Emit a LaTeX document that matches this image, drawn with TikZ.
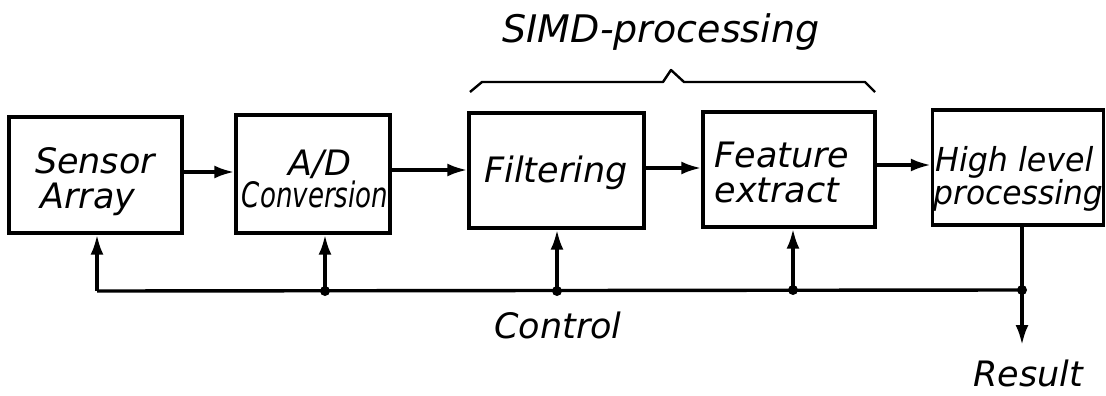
\documentclass[tikz,border=0pt]{standalone}
\usepackage{fontspec}
\setmainfont{DejaVu Sans}
\usetikzlibrary{arrows.meta}
\begin{document}
\begin{tikzpicture}[x=1pt,y=-1pt,
  >={Latex[length=20pt,width=13pt]},
  blk/.style={draw, line width=3.4pt, inner sep=0pt},
  lbl/.style={font=\fontsize{35}{38}\selectfont\itshape, inner sep=0pt, anchor=base},
  conn/.style={line width=3.4pt, ->},
  wire/.style={line width=3.4pt},
  brace/.style={line width=2.4pt, line join=round},
  jdot/.style={circle, fill, inner sep=0pt, minimum size=10pt}]
\useasboundingbox (0,0) rectangle (1106,396);
% blocks
\node[blk, minimum width=173pt, minimum height=116pt] (sa) at (95.5,175) {};
\node[blk, minimum width=154pt, minimum height=118pt] (ad) at (313,174) {};
\node[blk, minimum width=175pt, minimum height=115pt] (fi) at (556.5,170.5) {};
\node[blk, minimum width=172pt, minimum height=115pt] (fe) at (789,169.5) {};
\node[blk, minimum width=171pt, minimum height=115pt] (hl) at (1018,167.5) {};
% labels
\node[lbl] (sa1) at (95,173) {Sensor};
\node[lbl] (sa2) at (88,208) {Array};
\node[lbl] (ad1) at (320,175) {A/D};
\node[lbl] (ad2) at (315,207) {\scalebox{0.745}[1]{Conversion}};
\node[lbl] (fi1) at (556,182) {Filtering};
\node[lbl] (fe1) at (782,167) {Feature};
\node[lbl] (fe2) at (777,202) {extract};
\node[lbl, anchor=base west, font=\fontsize{33}{36}\selectfont\itshape] (hl1) at (935,171) {\scalebox{0.96}[1]{High level}};
\node[lbl, anchor=base west, font=\fontsize{33}{36}\selectfont\itshape] (hl2) at (933,204) {\scalebox{0.95}[1]{processing}};
\node[lbl, font=\fontsize{38}{40}\selectfont\itshape] (simd) at (661,43) {SIMD-processing};
\node[lbl] (ctl) at (558,338) {Control};
\node[lbl] (res) at (1028,386) {Result};
% forward arrows
\draw[conn] (sa.east |- 0,172) -- (ad.west |- 0,172);
\draw[conn] (ad.east |- 0,170) -- (fi.west |- 0,170);
\draw[conn] (fi.east |- 0,168) -- (fe.west |- 0,168);
\draw[conn] (fe.east |- 0,165) -- (hl.west |- 0,165);
% control bus
\coordinate (cl) at (97,291);
\coordinate (cr) at (1022,290);
\coordinate (j1) at (325,291);
\coordinate (j2) at (557,291);
\coordinate (j3) at (793,290);
\coordinate (rend) at (1022,345);
\draw[wire] (cl) -- (cr);
\draw[conn] (cl) -- (cl |- sa.south);
\draw[conn] (j1) -- (j1 |- ad.south);
\draw[conn] (j2) -- (j2 |- fi.south);
\draw[conn] (j3) -- (j3 |- fe.south);
\draw[conn] (cr |- hl.south) -- (rend);
\node[jdot] at (j1) {};
\node[jdot] at (j2) {};
\node[jdot] at (j3) {};
\node[jdot] at (cr) {};
% brace
\coordinate (b0) at (470,92);
\coordinate (b5) at (875,92);
\draw[brace] (b0) -- (482,82) -- (663,82) -- (671,70) -- (684,82) -- (865,82) -- (b5);
\end{tikzpicture}
\end{document}
